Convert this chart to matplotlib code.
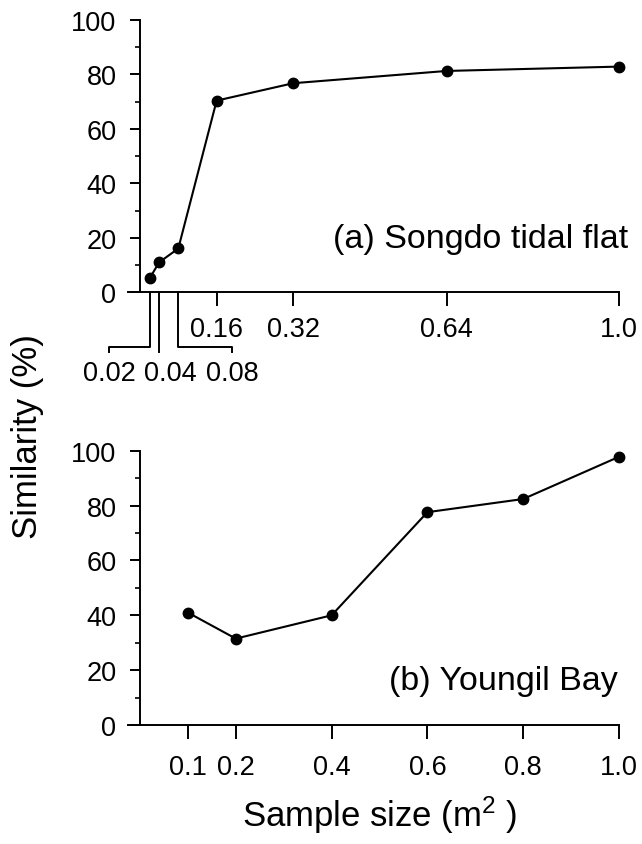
import matplotlib
matplotlib.use("Agg")
import matplotlib.pyplot as plt
from matplotlib.ticker import MultipleLocator

plt.rcParams['font.family'] = ['Liberation Sans', 'DejaVu Sans']
plt.rcParams['mathtext.fontset'] = 'custom'
plt.rcParams['mathtext.rm'] = 'Liberation Sans'
plt.rcParams['mathtext.it'] = 'Liberation Sans:italic'

# ---- data ----
size_a = [0.02, 0.04, 0.08, 0.16, 0.32, 0.64, 1.0]
sim_a = [5.1, 11.0, 16.1, 70.4, 76.8, 81.3, 82.9]
size_b = [0.1, 0.2, 0.4, 0.6, 0.8, 1.0]
sim_b = [41.0, 31.5, 40.0, 77.6, 82.4, 97.8]

ticks_a_main = [0.16, 0.32, 0.64, 1.0]
labels_a_main = ['0.16', '0.32', '0.64', '1.0']
ticks_a_small = [0.02, 0.04, 0.08]
labels_a_small = ['0.02', '0.04', '0.08']
labels_b = ['0.1', '0.2', '0.4', '0.6', '0.8', '1.0']
yticks = [0, 20, 40, 60, 80, 100]
title_a = '(a) Songdo tidal flat'
title_b = '(b) Youngil Bay'
ylabel = 'Similarity (%)'
xlabel = 'Sample size (m$^2$ )'

# ---- layout ----
fig = plt.figure(figsize=(6.42, 8.45), dpi=100)
ax1 = fig.add_axes([0.1994, 0.6529, 0.7648, 0.3222])
ax2 = fig.add_axes([0.1994, 0.1408, 0.7648, 0.3246])

for ax in (ax1, ax2):
    ax.set_xlim(-0.025, 1.0)
    ax.set_ylim(0, 100)
    ax.spines['top'].set_visible(False)
    ax.spines['right'].set_visible(False)
    ax.spines['left'].set_position(('data', 0))
    for s in ('left', 'bottom'):
        ax.spines[s].set_linewidth(1.4)
    ax.set_yticks(yticks)
    ax.yaxis.set_minor_locator(MultipleLocator(10))
    ax.tick_params(axis='y', which='major', direction='out', length=7,
                   width=1.4, labelsize=19.5, pad=10)
    ax.tick_params(axis='y', which='minor', direction='out', length=3.5,
                   width=1.2)
    ax.tick_params(axis='x', which='major', direction='out', length=10,
                   width=1.4, labelsize=19.5)
    ax.tick_params(axis='x', which='minor', bottom=False)

# top panel
ax1.plot(size_a, sim_a, color='black', lw=1.5, marker='o', ms=7.5,
         clip_on=False, zorder=3)
ax1.set_xticks(ticks_a_main)
ax1.set_xticklabels(labels_a_main)
ax1.tick_params(axis='x', pad=7)

tr = ax1.get_xaxis_transform()
leader_end = [-0.064, 0.04, 0.192]
label_pos = [-0.064, 0.064, 0.192]
y_h = -0.202
y_tail = -0.220
for x, lx, px, lab in zip(ticks_a_small, leader_end, label_pos, labels_a_small):
    if abs(lx - x) < 1e-9:
        ax1.plot([x, x], [0, y_tail], transform=tr, color='black', lw=1.4,
                 clip_on=False)
    else:
        ax1.plot([x, x, lx, lx], [0, y_h, y_h, y_tail], transform=tr,
                 color='black', lw=1.4, clip_on=False)
    ax1.text(px, -0.296, lab, transform=tr, ha='center', va='center',
             fontsize=19.5)

ax1.text(1.019, 16.5, title_a, ha='right', va='baseline', fontsize=24.5)

# bottom panel
ax2.plot(size_b, sim_b, color='black', lw=1.5, marker='o', ms=7.5,
         clip_on=False, zorder=3)
ax2.set_xticks(size_b)
ax2.set_xticklabels(labels_b)
ax2.tick_params(axis='x', pad=11)
ax2.xaxis.get_major_ticks()[0].tick1line.set_color('#cccccc')

ax2.text(0.998, 13.3, title_b, ha='right', va='baseline', fontsize=24.5)

fig.text(28 / 642, 1 - 437 / 845, ylabel, rotation=90, ha='center',
         va='center', fontsize=25)
fig.text(380 / 642, 1 - 815 / 845, xlabel, ha='center', va='center',
         fontsize=25)

fig.savefig('out.png', dpi=100)
